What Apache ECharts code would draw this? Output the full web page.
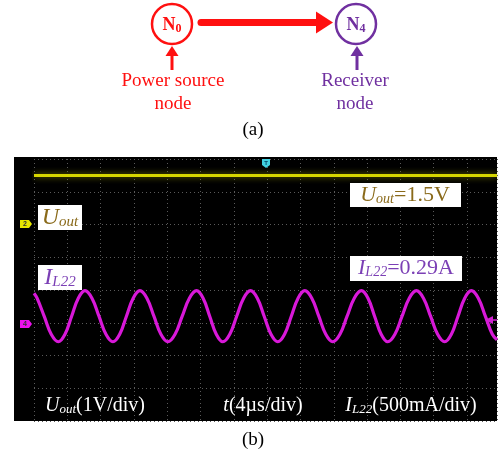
<!DOCTYPE html>
<html><head><meta charset="utf-8">
<script src="https://cdn.jsdelivr.net/npm/echarts@6/dist/echarts.min.js"></script>
<style>html,body{margin:0;padding:0;background:#fff}#c{width:499px;height:457px}</style>
</head><body><div id="c"></div>
<script>
// Oscilloscope data
const uTime = [0, 55.6];          // µs
const uValue = [1.5, 1.5];        // V (1V/div)
const iTime = [0, 0.37, 1.22, 2.07, 2.92, 3.72, 4.52, 5.32, 6.12, 6.96, 7.80, 8.64, 9.48,
  10.29, 11.10, 11.91, 12.72, 13.56, 14.40, 15.24, 16.08, 16.94, 17.80, 18.66, 19.52,
  20.31, 21.10, 21.89, 22.68, 23.51, 24.34, 25.17, 26.00, 26.82, 27.64, 28.46, 29.28,
  30.09, 30.90, 31.71, 32.52, 33.36, 34.20, 35.04, 35.88, 36.74, 37.60, 38.46, 39.32,
  40.11, 40.90, 41.69, 42.48, 43.34, 44.20, 45.06, 45.92, 46.77, 47.62, 48.47, 49.32,
  50.12, 50.92, 51.72, 52.52, 53.36, 54.20, 55.04, 55.6];
const iValue = [0.45, 0.375, 0.10, -0.175, -0.29, -0.175, 0.10, 0.375, 0.49, 0.375, 0.10, -0.175, -0.29,
  -0.175, 0.10, 0.375, 0.49, 0.375, 0.10, -0.175, -0.29, -0.175, 0.10, 0.375, 0.49,
  0.375, 0.10, -0.175, -0.29, -0.175, 0.10, 0.375, 0.49, 0.375, 0.10, -0.175, -0.29,
  -0.175, 0.10, 0.375, 0.49, 0.375, 0.10, -0.175, -0.29, -0.175, 0.10, 0.375, 0.49,
  0.375, 0.10, -0.175, -0.29, -0.175, 0.10, 0.375, 0.49, 0.375, 0.10, -0.175, -0.29,
  -0.175, 0.10, 0.375, 0.49, 0.375, 0.10, -0.175, -0.26];

const SERIF = '"Liberation Serif","Times New Roman",serif';
const RED = '#ff1010', PURPLE = '#7030a0', GOLD = '#8a6a1a', VIOLET = '#7b3fb5';

const chart = echarts.init(document.getElementById('c'), null, {renderer: 'canvas'});

function txt(x, y, text, opts) {
  return Object.assign({type: 'text', x: x, y: y, z: 100,
    style: Object.assign({text: text, font: '19px ' + SERIF, fill: '#000', align: 'center', verticalAlign: 'middle'}, opts || {})});
}
function box(x, y, w, h) {
  return {type: 'rect', z: 90, shape: {x: x, y: y, width: w, height: h}, style: {fill: '#fff'}};
}
function upArrow(x, tipY, baseY, color) {
  return [
    {type: 'line', z: 100, shape: {x1: x, y1: baseY, x2: x, y2: tipY + 6}, style: {stroke: color, lineWidth: 3}},
    {type: 'polygon', z: 100, shape: {points: [[x, tipY], [x - 6.5, tipY + 10], [x + 6.5, tipY + 10]]}, style: {fill: color}}
  ];
}

const graphics = [
  // black scope panel
  {type: 'rect', z: -100, shape: {x: 14, y: 157, width: 483, height: 264}, style: {fill: '#000'}},
  // diagram (a)
  {type: 'circle', z: 100, shape: {cx: 172, cy: 24, r: 20}, style: {fill: '#fff', stroke: RED, lineWidth: 2.5}},
  {type: 'circle', z: 100, shape: {cx: 356, cy: 24, r: 20}, style: {fill: '#fff', stroke: PURPLE, lineWidth: 2.5}},
  {type: 'line', z: 100, shape: {x1: 201, y1: 22.5, x2: 318, y2: 22.5}, style: {stroke: RED, lineWidth: 7, lineCap: 'round'}},
  {type: 'polygon', z: 100, shape: {points: [[333, 22.5], [316, 11.5], [316, 33.5]]}, style: {fill: RED}},
  ...upArrow(172, 46, 70, RED),
  ...upArrow(357, 46, 70, PURPLE),
  txt(172, 25, '{b|N}{s|0}', {fill: RED, rich: {b: {font: 'bold 18px ' + SERIF, fill: RED}, s: {font: 'bold 12px ' + SERIF, fill: RED, padding: [7, 0, 0, 0]}}}),
  txt(356, 25, '{b|N}{s|4}', {fill: PURPLE, rich: {b: {font: 'bold 18px ' + SERIF, fill: PURPLE}, s: {font: 'bold 12px ' + SERIF, fill: PURPLE, padding: [7, 0, 0, 0]}}}),
  txt(173, 81, 'Power source', {fill: RED}),
  txt(173, 104, 'node', {fill: RED}),
  txt(355, 81, 'Receiver', {fill: PURPLE}),
  txt(355, 104, 'node', {fill: PURPLE}),
  txt(253, 130, '(a)'),
  txt(253, 440, '(b)'),
  // label boxes
  box(38, 205, 44, 25),
  txt(60, 218, '{u|U}{s|out}', {rich: {u: {font: 'italic 24px ' + SERIF, fill: GOLD}, s: {font: 'italic 15px ' + SERIF, fill: GOLD, padding: [9, 0, 0, 0]}}}),
  box(38, 265, 44, 25),
  txt(60, 278, '{u|I}{s|L22}', {rich: {u: {font: 'italic 24px ' + SERIF, fill: VIOLET}, s: {font: 'italic 15px ' + SERIF, fill: VIOLET, padding: [9, 0, 0, 0]}}}),
  box(350, 183, 111, 24),
  txt(405, 195, '{u|U}{s|out}{n|=1.5V}', {rich: {u: {font: 'italic 22px ' + SERIF, fill: GOLD}, s: {font: 'italic 14px ' + SERIF, fill: GOLD, padding: [8, 0, 0, 0]}, n: {font: '22px ' + SERIF, fill: GOLD}}}),
  box(350, 256, 112, 25),
  txt(406, 268, '{u|I}{s|L22}{n|=0.29A}', {rich: {u: {font: 'italic 22px ' + SERIF, fill: VIOLET}, s: {font: 'italic 14px ' + SERIF, fill: VIOLET, padding: [8, 0, 0, 0]}, n: {font: '22px ' + SERIF, fill: VIOLET}}}),
  // bottom scale labels
  txt(95, 406, '{u|U}{s|out}{n|(1V/div)}', {rich: {u: {font: 'italic 20px ' + SERIF, fill: '#fff'}, s: {font: 'italic 13px ' + SERIF, fill: '#fff', padding: [7, 0, 0, 0]}, n: {font: '20px ' + SERIF, fill: '#fff'}}}),
  txt(263, 406, '{u|t}{n|(4µs/div)}', {rich: {u: {font: 'italic 20px ' + SERIF, fill: '#fff'}, n: {font: '20px ' + SERIF, fill: '#fff'}}}),
  txt(411, 406, '{u|I}{s|L22}{n|(500mA/div)}', {rich: {u: {font: 'italic 20px ' + SERIF, fill: '#fff'}, s: {font: 'italic 13px ' + SERIF, fill: '#fff', padding: [7, 0, 0, 0]}, n: {font: '20px ' + SERIF, fill: '#fff'}}}),
  // channel markers
  {type: 'polygon', z: 100, shape: {points: [[20, 220], [29, 220], [32, 224], [29, 228], [20, 228]]}, style: {fill: '#e8e800'}},
  txt(25, 224, '2', {font: 'bold 7px sans-serif', fill: '#333'}),
  {type: 'polygon', z: 100, shape: {points: [[20, 320], [29, 320], [32, 324], [29, 328], [20, 328]]}, style: {fill: '#ee10ee'}},
  txt(25, 324, '4', {font: 'bold 7px sans-serif', fill: '#333'}),
  {type: 'polygon', z: 100, shape: {points: [[262, 159], [270, 159], [270, 165], [266, 168], [262, 165]]}, style: {fill: '#40d0e0'}},
  txt(266, 163, 'T', {font: 'bold 6px sans-serif', fill: '#046'}),
  {type: 'polygon', z: 100, shape: {points: [[485, 320], [493, 316], [493, 324]]}, style: {fill: '#d020d0'}},
  {type: 'line', z: 100, shape: {x1: 490, y1: 320, x2: 497, y2: 320}, style: {stroke: '#d020d0', lineWidth: 1.5}}
];

const option = {
  backgroundColor: '#fff',
  animation: false,
  grid: {left: 34, top: 159, width: 463, height: 262, containLabel: false},
  xAxis: {type: 'value', min: 0, max: 55.6, interval: 4,
    axisLine: {show: false}, axisTick: {show: false}, axisLabel: {show: false},
    splitLine: {show: true, lineStyle: {color: '#5a5a5a', type: [1, 3], width: 1}}},
  yAxis: [
    {type: 'value', min: -6, max: 2, interval: 1,
      axisLine: {show: false}, axisTick: {show: false}, axisLabel: {show: false},
      splitLine: {show: true, lineStyle: {color: '#5a5a5a', type: [1, 3], width: 1}}},
    {type: 'value', min: -1.5, max: 2.5, interval: 0.5, show: false,
      splitLine: {show: false}}
  ],
  series: [
    {type: 'line', name: 'Uout', yAxisIndex: 0, showSymbol: false, silent: true,
      data: uTime.map((t, i) => [t, uValue[i]]),
      lineStyle: {color: '#d6d600', width: 3, shadowColor: 'rgba(150,150,0,0.8)', shadowBlur: 6}},
    {type: 'line', name: 'IL22', yAxisIndex: 1, showSymbol: false, silent: true, smooth: 0.4,
      data: iTime.map((t, i) => [t, iValue[i]]),
      lineStyle: {color: '#d818d8', width: 3.2}}
  ],
  graphic: graphics
};
chart.setOption(option);
</script></body></html>
